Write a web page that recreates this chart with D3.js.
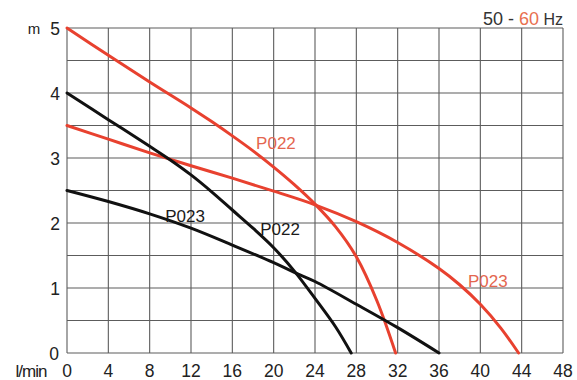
<!DOCTYPE html>
<html><head><meta charset="utf-8">
<script src="https://cdn.jsdelivr.net/npm/d3@7"></script>
<style>body{margin:0;background:#fff;} svg{display:block;font-family:"Liberation Sans",Arial,sans-serif;}</style>
</head><body>
<script>
const xTicks = [0,4,8,12,16,20,24,28,32,36,40,44,48];
const yTicks = [0,1,2,3,4,5];
const redP022 = [[0,5],[4,4.58],[8,4.17],[12,3.77],[14,3.56],[16,3.34],[18,3.11],[20,2.86],[22,2.59],[24,2.29],[26,1.94],[28,1.48],[30,0.8],[31.8,0]];
const redP023 = [[0,3.5],[4,3.29],[8,3.08],[12,2.88],[16,2.69],[20,2.49],[24,2.28],[28,2.02],[32,1.7],[36,1.3],[38,1.05],[40,0.75],[42,0.38],[43.7,0]];
const blackP022 = [[0,4],[4,3.59],[8,3.18],[10,2.97],[12,2.74],[14,2.48],[16,2.2],[18,1.92],[20,1.62],[22,1.26],[24,0.84],[26,0.4],[27.5,0]];
const blackP023 = [[0,2.5],[4,2.33],[8,2.14],[12,1.92],[16,1.66],[20,1.39],[22,1.24],[24,1.1],[28,0.75],[32,0.39],[36,0]];
const curveLabels = [
  {text:"P022", x:18.3, y:3.14, color:"#e4664f"},
  {text:"P023", x:9.5, y:2.02, color:"#1a1a1a"},
  {text:"P022", x:18.7, y:1.82, color:"#1a1a1a"},
  {text:"P023", x:38.8, y:1.02, color:"#e4664f"}
];

const W=577,H=380;
const svg=d3.select("body").append("svg").attr("width",W).attr("height",H);
const x=d3.scaleLinear().domain([0,48]).range([67,563]);
const y=d3.scaleLinear().domain([0,5]).range([353,28]);

const grid=svg.append("g").attr("stroke","#5c5c5c").attr("stroke-width",1.1);
grid.selectAll("line.v").data(xTicks).join("line").attr("class","v")
  .attr("x1",d=>x(d)).attr("x2",d=>x(d)).attr("y1",y(0)).attr("y2",y(5));
grid.selectAll("line.h").data(d3.range(0,5.01,0.5)).join("line").attr("class","h")
  .attr("x1",x(0)).attr("x2",x(48)).attr("y1",d=>y(d)).attr("y2",d=>y(d));

const line=d3.line().x(d=>x(d[0])).y(d=>y(d[1])).curve(d3.curveCatmullRom.alpha(0.5));
const series=[[redP022,"#e8412f"],[redP023,"#e8412f"],[blackP022,"#111"],[blackP023,"#111"]];
svg.append("g").selectAll("path").data(series).join("path")
  .attr("d",d=>line(d[0])).attr("fill","none").attr("stroke",d=>d[1]).attr("stroke-width",3).attr("stroke-linecap","round");

// x tick labels
svg.append("g").selectAll("text").data(xTicks).join("text")
  .attr("x",d=>x(d)).attr("y",377).attr("text-anchor","middle").attr("font-size",17.5).attr("fill","#222").text(d=>d);
svg.append("text").attr("x",31).attr("y",377).attr("text-anchor","middle").attr("font-size",17).attr("fill","#222").attr("letter-spacing",-1).text("l/min");
// y tick labels
svg.append("g").selectAll("text").data(yTicks).join("text")
  .attr("x",d=>d===0?59:60).attr("y",d=>y(d)+6.5).attr("text-anchor","end").attr("font-size",17.5).attr("fill","#222").text(d=>d);
svg.append("text").attr("x",34).attr("y",y(5)+6).attr("text-anchor","middle").attr("font-size",15).attr("fill","#222").text("m");

// title
const t=svg.append("text").attr("x",563).attr("y",25).attr("text-anchor","end").attr("font-size",18).attr("fill","#333");
t.append("tspan").text("50 - ");
t.append("tspan").attr("fill","#e8704f").text("60");
t.append("tspan").attr("font-size",16).text(" Hz");

svg.append("g").selectAll("text").data(curveLabels).join("text")
  .attr("x",d=>x(d.x)).attr("y",d=>y(d.y)).attr("font-size",17).attr("fill",d=>d.color).text(d=>d.text);
</script>
</body></html>
